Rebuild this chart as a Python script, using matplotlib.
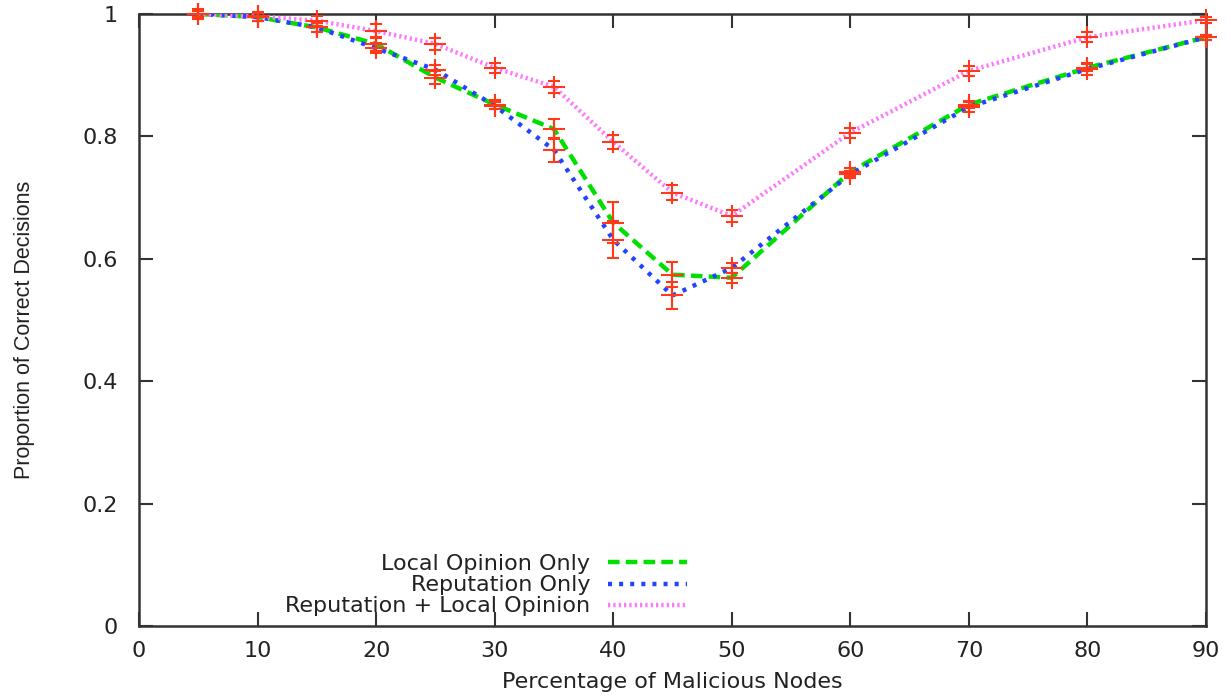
import matplotlib
matplotlib.use("Agg")
import matplotlib.pyplot as plt

plt.rcParams['font.family'] = ['DejaVu Sans']

# malicious node percentages
x = [5, 10, 15, 20, 25, 30, 35, 40, 45, 50, 60, 70, 80, 90]

local_only = [1.0, 0.995, 0.978, 0.951, 0.896, 0.852, 0.812, 0.659, 0.574, 0.569, 0.742, 0.852, 0.912, 0.962]
local_err = [0.005, 0.006, 0.008, 0.012, 0.01, 0.008, 0.016, 0.033, 0.02, 0.008, 0.006, 0.006, 0.006, 0.004]

rep_only = [1.0, 0.995, 0.978, 0.944, 0.909, 0.850, 0.778, 0.631, 0.540, 0.585, 0.738, 0.848, 0.910, 0.962]
rep_err = [0.005, 0.006, 0.008, 0.008, 0.008, 0.006, 0.02, 0.03, 0.022, 0.008, 0.006, 0.008, 0.01, 0.004]

rep_local = [1.0, 0.996, 0.989, 0.972, 0.951, 0.912, 0.881, 0.791, 0.708, 0.670, 0.806, 0.907, 0.962, 0.990]
rep_local_err = [0.008, 0.008, 0.008, 0.012, 0.01, 0.008, 0.01, 0.012, 0.012, 0.01, 0.008, 0.008, 0.008, 0.005]

labels = ["Local Opinion Only", "Reputation Only", "Reputation + Local Opinion"]

fig = plt.figure(figsize=(12.31, 6.98), dpi=100)
ax = fig.add_axes([0.1129, 0.1032, 0.8668, 0.8768])

ax.plot(x, local_only, color="#00e000", lw=3.2, ls=(0, (2.6, 1.4)), label=labels[0], zorder=3)
ax.plot(x, rep_only, color="#2244ff", lw=3.2, ls=(0, (0.9, 1.6)), label=labels[1], zorder=3)
ax.plot(x, rep_local, color="#ff77ff", lw=3.2, ls=(0, (0.5, 0.7)), label=labels[2], zorder=3)

for ys, es in [(local_only, local_err), (rep_only, rep_err), (rep_local, rep_local_err)]:
    ax.errorbar(x, ys, yerr=es, fmt="+", color="#ff3a1a", ms=16, mew=1.5,
                elinewidth=1.5, capsize=4.5, capthick=1.5, zorder=4, clip_on=False)

ax.set_xlim(0, 90)
ax.set_ylim(0, 1)
ax.set_xticks(range(0, 91, 10))
ax.set_yticks([0, 0.2, 0.4, 0.6, 0.8, 1.0])
ax.set_yticklabels(["0", "0.2", "0.4", "0.6", "0.8", "1"])
ax.tick_params(direction="in", length=10, width=1.5, top=True, right=True,
               labelsize=16, color="#333333", labelcolor="#222222")
ax.tick_params(axis="x", pad=11)
ax.tick_params(axis="y", pad=15)
for s in ax.spines.values():
    s.set_linewidth(1.8)
    s.set_color("#333333")

ax.set_xlabel("Percentage of Malicious Nodes", fontsize=16, color="#222222")
ax.set_ylabel("Proportion of Correct Decisions", fontsize=15.5, color="#222222",
              family=["Liberation Sans", "DejaVu Sans"])
ax.xaxis.set_label_coords(0.5, -0.076)
ax.yaxis.set_label_coords(-0.097, 0.484)

ax.legend(loc="lower right", bbox_to_anchor=(0.567, 0.101), bbox_transform=fig.transFigure,
          frameon=False, markerfirst=False, fontsize=16, handlelength=3.55,
          handletextpad=0.8, labelspacing=0.05, borderpad=0, labelcolor="#222222")

fig.savefig("out.png", dpi=100)
